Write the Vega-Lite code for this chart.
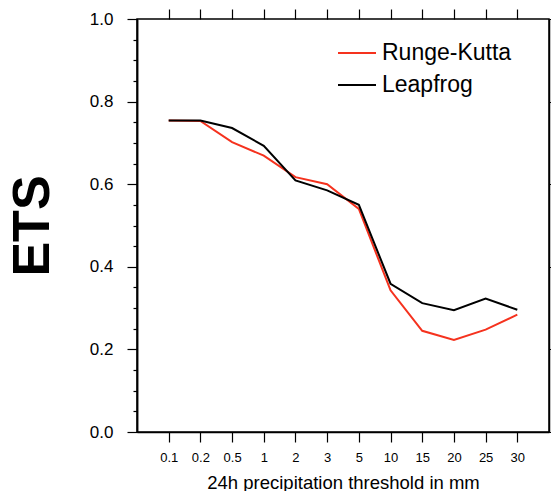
{
  "$schema": "https://vega.github.io/schema/vega-lite/v6.json",
  "width": 412,
  "height": 413,
  "autosize": "none",
  "padding": {"left": 137, "top": 19, "right": 2, "bottom": 59},
  "config": {
    "font": "Liberation Sans",
    "view": {"stroke": "black", "strokeWidth": 1.5},
    "axis": {
      "grid": false,
      "domainColor": "black",
      "domainWidth": 1.5,
      "tickColor": "black",
      "tickWidth": 1.2,
      "labelColor": "black",
      "titleColor": "black",
      "labelFont": "Liberation Sans",
      "titleFont": "Liberation Sans"
    }
  },
  "data": {
    "values": [
      {"threshold": "0.1", "scheme": "Runge-Kutta", "ets": 0.754},
      {"threshold": "0.2", "scheme": "Runge-Kutta", "ets": 0.753},
      {"threshold": "0.5", "scheme": "Runge-Kutta", "ets": 0.702},
      {"threshold": "1", "scheme": "Runge-Kutta", "ets": 0.669},
      {"threshold": "2", "scheme": "Runge-Kutta", "ets": 0.617},
      {"threshold": "3", "scheme": "Runge-Kutta", "ets": 0.600},
      {"threshold": "5", "scheme": "Runge-Kutta", "ets": 0.540},
      {"threshold": "10", "scheme": "Runge-Kutta", "ets": 0.343},
      {"threshold": "15", "scheme": "Runge-Kutta", "ets": 0.245},
      {"threshold": "20", "scheme": "Runge-Kutta", "ets": 0.223},
      {"threshold": "25", "scheme": "Runge-Kutta", "ets": 0.248},
      {"threshold": "30", "scheme": "Runge-Kutta", "ets": 0.284},
      {"threshold": "0.1", "scheme": "Leapfrog", "ets": 0.754},
      {"threshold": "0.2", "scheme": "Leapfrog", "ets": 0.754},
      {"threshold": "0.5", "scheme": "Leapfrog", "ets": 0.736},
      {"threshold": "1", "scheme": "Leapfrog", "ets": 0.693},
      {"threshold": "2", "scheme": "Leapfrog", "ets": 0.609},
      {"threshold": "3", "scheme": "Leapfrog", "ets": 0.585},
      {"threshold": "5", "scheme": "Leapfrog", "ets": 0.550},
      {"threshold": "10", "scheme": "Leapfrog", "ets": 0.359},
      {"threshold": "15", "scheme": "Leapfrog", "ets": 0.312},
      {"threshold": "20", "scheme": "Leapfrog", "ets": 0.295},
      {"threshold": "25", "scheme": "Leapfrog", "ets": 0.323},
      {"threshold": "30", "scheme": "Leapfrog", "ets": 0.296}
    ]
  },
  "layer": [
    {
      "mark": {"type": "line", "strokeWidth": 2},
      "encoding": {
        "x": {
          "field": "threshold",
          "type": "ordinal",
          "sort": ["0.1", "0.2", "0.5", "1", "2", "3", "5", "10", "15", "20", "25", "30"],
          "scale": {"type": "point", "padding": 1},
          "axis": {
            "orient": "bottom",
            "title": "24h precipitation threshold in mm",
            "titleFontSize": 18.5,
            "titleFontWeight": "normal",
            "titlePadding": 9,
            "labelAngle": 0,
            "labelFontSize": 13,
            "labelPadding": 9,
            "tickSize": 10
          }
        },
        "y": {
          "field": "ets",
          "type": "quantitative",
          "scale": {"domain": [0, 1], "nice": false},
          "axis": {
            "orient": "left",
            "values": [0, 0.2, 0.4, 0.6, 0.8, 1.0],
            "format": ".1f",
            "title": "ETS",
            "titleFontSize": 52,
            "titleFontWeight": "bold",
            "titlePadding": 30,
            "labelFontSize": 17,
            "labelPadding": 14,
            "tickSize": 10
          }
        },
        "color": {
          "field": "scheme",
          "type": "nominal",
          "scale": {"domain": ["Runge-Kutta", "Leapfrog"], "range": ["#f5321e", "black"]},
          "legend": {
            "title": null,
            "orient": "none",
            "legendX": 200,
            "legendY": 14,
            "symbolType": "stroke",
            "symbolSize": 1444,
            "symbolStrokeWidth": 2,
            "labelFontSize": 23,
            "labelFont": "Liberation Sans",
            "labelColor": "black",
            "labelOffset": 5,
            "rowPadding": -10
          }
        }
      }
    },
    {
      "mark": {"type": "line", "opacity": 0},
      "encoding": {
        "x": {
          "field": "threshold",
          "type": "ordinal",
          "sort": ["0.1", "0.2", "0.5", "1", "2", "3", "5", "10", "15", "20", "25", "30"],
          "scale": {"type": "point", "padding": 1},
          "axis": {
            "orient": "bottom",
            "offset": -413,
            "title": null,
            "labels": false,
            "domain": false,
            "tickSize": -10
          }
        },
        "y": {
          "field": "ets",
          "type": "quantitative",
          "scale": {"domain": [0, 1], "nice": false},
          "axis": {
            "orient": "left",
            "title": null,
            "labels": false,
            "tickSize": 4,
            "values": [0.05, 0.1, 0.15, 0.25, 0.3, 0.35, 0.45, 0.5, 0.55, 0.65, 0.7, 0.75, 0.85, 0.9, 0.95]
          }
        },
        "detail": {"field": "scheme"}
      }
    },
    {
      "mark": {"type": "line", "opacity": 0},
      "encoding": {
        "y": {
          "field": "ets",
          "type": "quantitative",
          "scale": {"domain": [0, 1], "nice": false},
          "axis": {
            "orient": "right",
            "title": null,
            "labels": false,
            "tickSize": 10,
            "values": [0, 0.2, 0.4, 0.6, 0.8, 1.0]
          }
        },
        "detail": {"field": "scheme"}
      }
    }
  ],
  "resolve": {
    "axis": {"x": "independent", "y": "independent"}
  }
}
